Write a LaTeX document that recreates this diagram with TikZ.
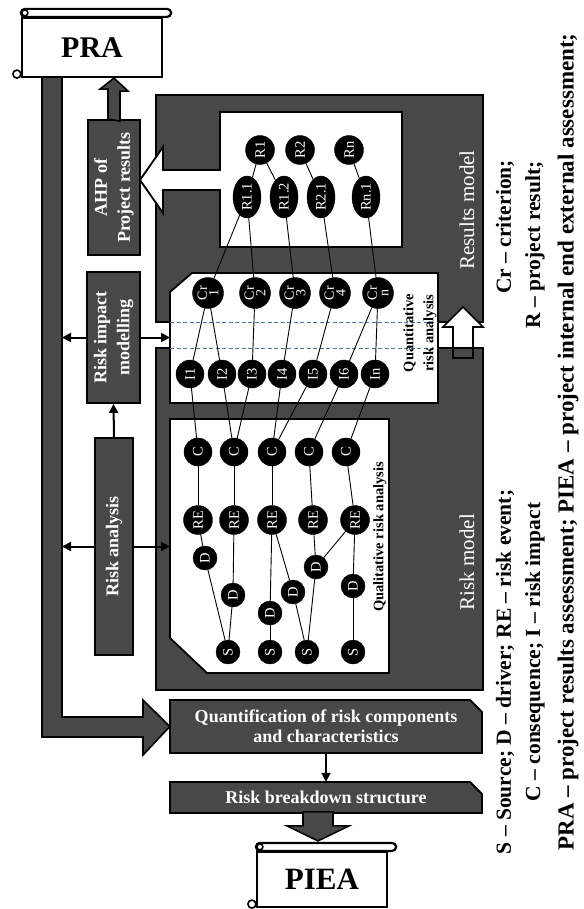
\documentclass[tikz,border=0pt]{standalone}
\usepackage{fontspec}
\setmainfont{Liberation Serif}
\usepackage{tikz}
\usetikzlibrary{arrows.meta,calc,shapes.geometric}
\definecolor{rmDark}{RGB}{72,72,72}
\definecolor{rmInk}{RGB}{0,0,0}
\definecolor{rmDash}{RGB}{84,112,160}
\definecolor{rmWhite}{RGB}{255,255,255}
\tikzset{
  rmframe/.style={draw=rmInk,line width=1.6pt,fill=rmDark},
  rmbox/.style={draw=rmInk,line width=1.8pt,fill=rmDark},
  rmpane/.style={draw=rmInk,line width=1.8pt,fill=rmWhite},
  rmblock/.style={draw=rmInk,line width=1.6pt,fill=rmDark,line join=miter},
  rmboxtext/.style={text=rmWhite,font=\bfseries\fontsize{18}{23}\selectfont,align=center,inner sep=0pt},
  rmside/.style={rotate=90,text=rmWhite,inner sep=0pt,font=\fontsize{21}{24}\selectfont},
  rmcaption/.style={rotate=90,text=rmInk,inner sep=0pt,align=center,font=\bfseries\fontsize{14.5}{20}\selectfont},
  rmlegend/.style={rotate=90,text=rmInk,inner sep=0pt,font=\bfseries\fontsize{21.5}{22}\selectfont},
  rmdot/.style={circle,fill=rmInk,draw=rmInk,inner sep=0pt,rotate=90,text=rmWhite,font=\fontsize{14.5}{12}\selectfont},
  rmoval/.style={ellipse,fill=rmInk,draw=rmInk,inner sep=0pt,rotate=90,text=rmWhite,minimum width=42,minimum height=28,font=\fontsize{14.5}{12}\selectfont},
  rmedge/.style={draw=rmInk,line width=0.9pt},
  rmflow/.style={-{Triangle[length=9pt,width=9pt]},draw=rmInk,line width=2pt},
  rmdash/.style={draw=rmDash,line width=0.9pt,dash pattern=on 4pt off 2.5pt},
}
\newcommand{\ScrollRoll}[1]{%
  \draw[rmpane,line width=2.2pt,rounded corners=4pt] ($(#1.north west)+(0,-8)$) rectangle ($(#1.north east)+(8,0)$);%
  \draw[rmpane,line width=1.6pt] ($(#1.north west)+(4,-4)$) circle[radius=3];%
  \draw[rmpane,line width=1.6pt] ($(#1.south west)+(-4,-4)$) circle[radius=4];%
}

\begin{document}
\begin{tikzpicture}[x=1pt,y=-1pt]
\useasboundingbox (0,0) rectangle (583,909);

% Model frames and white panes.
\draw[rmframe] (156,95) rectangle (483,322);
\draw[rmframe] (156,348) rectangle (483,690);
\draw[rmpane] (220,112) -- (402,112) -- (402,247) -- (220,247) -- (220,190) -- (163,190) -- (163,213)
  -- (140,180) -- (163,147) -- (163,170) -- (220,170) -- cycle;
\draw[rmpane] (192,273) -- (438,273) -- (438,403) -- (170,403) -- (170,292) -- cycle;
\draw[rmpane] (170,419) -- (389,419) -- (389,673) -- (207,673) -- (170,638) -- cycle;
\draw[rmdash] (170,322) -- (438,322);
\draw[rmdash] (170,348) -- (438,348);
\coordinate (band) at (62,0);
\coordinate (inner) at (170,0);

\node[rmside] (resultslab) at (467,210) {Results model};
\node[rmside] (risklab) at (467,562) {Risk model};
\node[rmcaption] (quantlab) at (420,333) {Quantitative\\risk analysis};
\node[rmcaption] (quallab) at (380,537) {Qualitative risk analysis};

% Up arrow from risk model to results model.
\draw[rmpane,line width=1.6pt] (463,307) -- (483,327) -- (473,327) -- (473,358) -- (453,358) -- (453,327) -- (443,327) -- cycle;
\draw[rmblock] (453,348) rectangle (473,358);

% Results.
\foreach \n/\x in {1/260,2/300,n/349}
  \node[rmdot,minimum size=29] (R\n) at (\x,150) {R\n};
\foreach \n/\lab/\x in {11/R1.1/247,12/R1.2/284,21/R2.1/321,n1/Rn.1/366}
  \node[rmoval] (R\n) at (\x,197) {\lab};
% Criteria and impacts.
\foreach \n/\x in {1/208,2/255,3/295,4/335,n/378}
  \node[rmdot,minimum size=31,align=center,font=\fontsize{14}{11.5}\selectfont] (Cr\n) at (\x,293) {Cr\\\n};
\foreach \n/\x in {1/190,2/222,3/252,4/282,5/313,6/344,n/375}
  \node[rmdot,minimum size=28] (I\n) at (\x,374) {I\n};
% Consequences, risk events, drivers, sources.
\foreach \n/\x in {1/198,2/234,3/272,4/309,5/346}
  \node[rmdot,minimum size=28] (C\n) at (\x,452) {C};
\foreach \n/\x in {1/198,2/234,3/272,4/313,5/355}
  \node[rmdot,minimum size=29] (RE\n) at (\x,520) {RE};
\foreach \n/\x/\y in {1/205/558,2/233/595,3/270/613,4/293/592,5/316/567,6/353/586}
  \node[rmdot,minimum size=24] (D\n) at (\x,\y) {D};
\foreach \n/\x in {1/228,2/270,3/307,4/353}
  \node[rmdot,minimum size=24] (S\n) at (\x,652) {S};

\foreach \a/\b in {R1/R11,R1/R12,R2/R21,Rn/Rn1,R11/Cr1,R11/Cr2,R12/Cr3,R21/Cr4,Rn1/Crn,
  Cr1/I1,Cr1/I2,Cr2/I3,Cr3/I4,Cr4/I5,Crn/I6,Crn/In,
  I1/C1,I2/C2,I3/C2,I4/C3,I5/C3,I6/C4,In/C5,
  C1/RE1,C2/RE2,C3/RE3,C4/RE4,C5/RE5,
  RE1/D1,RE2/D2,RE3/D3,RE3/D4,RE4/D5,RE5/D5,RE5/D6,
  D1/S1,D2/S1,D3/S2,D4/S3,D5/S3,D6/S4}
  \draw[rmedge] (\a) -- (\b);

% Left column.
\node[rmbox,rotate=90,minimum width=135,minimum height=52,rmboxtext] (ahp) at (114,187.5) {AHP of\\Project results};
\node[rmbox,rotate=90,minimum width=131,minimum height=53,rmboxtext] (rim) at (113.5,337.5) {Risk impact\\modelling};
\node[rmbox,rotate=90,minimum width=217,minimum height=38,rmboxtext] (ra) at (114,546.5) {Risk analysis};
\draw[rmflow] (ra.east) -- (rim.west);
\draw[rmflow] (rim.north) -- (rim.north -| band);
\draw[rmflow] (rim.south) -- (rim.south -| inner);
\draw[rmflow] (ra.north) -- (ra.north -| band);
\draw[rmflow] (ra.south) -- (ra.south -| inner);

% Bottom boxes.
\draw[rmbox] (170,700) -- (470,700) -- (482,712) -- (482,753) -- (170,753) -- cycle;
\node[rmboxtext,minimum width=312,minimum height=53,font=\bfseries\fontsize{18}{20}\selectfont] (quant) at (326,726.5) {Quantification of risk components\\and characteristics};
\draw[rmbox] (170,782) -- (470,782) -- (482,794) -- (482,813) -- (170,813) -- cycle;
\node[rmboxtext,minimum width=312,minimum height=31] (rbs) at (326,797.5) {Risk breakdown structure};
\draw[rmflow] (quant.south) -- (rbs.north);

% Scrolls.
\node[rmpane,line width=2.2pt,minimum width=140,minimum height=59,inner sep=0pt,font=\bfseries\fontsize{30}{30}\selectfont] (pra) at (92,47.5) {PRA};
\ScrollRoll{pra}
\node[rmpane,line width=2.2pt,minimum width=130,minimum height=55,inner sep=0pt,font=\bfseries\fontsize{31}{30}\selectfont] (piea) at (322,879.5) {PIEA};
\ScrollRoll{piea}

% Block arrows.
\draw[rmblock] (42,77) -- (42,737) -- (143,737) -- (143,755) -- (quant.west) -- (143,700) -- (143,717) -- (62,717) -- (62,77) -- cycle;
\draw[rmblock] ($(ahp.east)+(-6,0)$) -- ++(0,-30) -- ++(-8,0) -- (ahp.east |- pra.south) -- ++(14,13) -- ++(-8,0) -- ++(0,30) -- cycle;
\draw[rmblock] ($(piea.north)+(-19,-39)$) -- ++(0,14) -- ++(-16,0) -- ($(piea.north)+(-4,-10)$) -- ++(31,-15) -- ++(-16,0) -- ++(0,-14) -- cycle;

% Legend.
\node[rmlegend] (legcr) at (505,227) {Cr – criterion;};
\node[rmlegend] (legr) at (535,245) {R – project result;};
\node[rmlegend] (legs) at (505,672) {S – Source; D – driver; RE – risk event;};
\node[rmlegend] (legc) at (535,652) {C – consequence; I – risk impact};
\node[rmlegend,font=\bfseries\fontsize{23}{24}\selectfont] (legp) at (568,442) {PRA – project results assessment; PIEA – project internal end external assessment;};
\end{tikzpicture}
\end{document}
